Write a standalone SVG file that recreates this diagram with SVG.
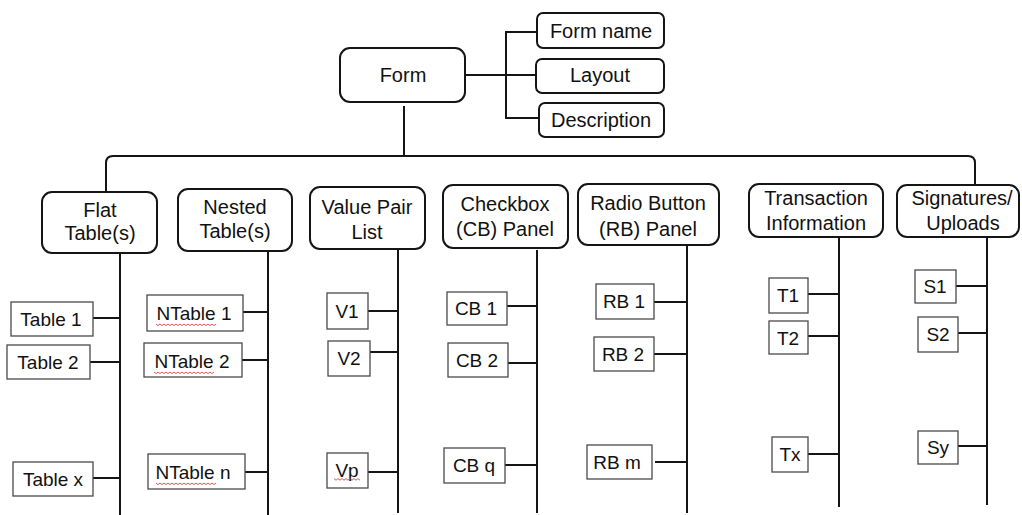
<svg xmlns="http://www.w3.org/2000/svg" width="1022" height="515" viewBox="0 0 1022 515">
  <defs>
    <style>
      .txt { font-family: "Liberation Sans", Arial, sans-serif; fill: #111111; text-anchor: middle; }
      .top { font-size: 20px; }
      .cat { font-size: 20px; }
      .leaf { font-size: 19px; }
      .rbox { fill: #ffffff; stroke: #151515; stroke-width: 2; }
      .sbox { fill: #ffffff; stroke: #4a4a4a; stroke-width: 1.3; }
      .wire { fill: none; stroke: #151515; stroke-width: 2; }
      .squig { fill: none; stroke: #e0443a; stroke-width: 0.9; }
    </style>
    <path id="wave" d="M0,0 l2,1.6 l2,-1.6 l2,1.6 l2,-1.6 l2,1.6 l2,-1.6 l2,1.6 l2,-1.6 l2,1.6 l2,-1.6 l2,1.6 l2,-1.6 l2,1.6 l2,-1.6 l2,1.6 l2,-1.6 l2,1.6 l2,-1.6 l2,1.6 l2,-1.6 l2,1.6 l2,-1.6 l2,1.6 l2,-1.6 l2,1.6 l2,-1.6 l2,1.6 l2,-1.6 l2,1.6 l2,-1.6"/>
  </defs>

  <!-- connectors -->
  <g id="connectors" class="wire">
    <!-- form to attribute boxes -->
    <path d="M465,75 H541"/>
    <path d="M537,32 H506 V118 H539"/>
    <!-- form down to main bus -->
    <path d="M404,106 V156"/>
    <path d="M106,192 V163 Q106,156 113,156 H968 Q975,156 975,163 V186"/>
    <!-- category spines -->
    <path d="M120,253 V515"/>
    <path d="M268,247 V515"/>
    <path d="M398,247 V513"/>
    <path d="M537,250 V513"/>
    <path d="M687,245 V513"/>
    <path d="M839,237 V507"/>
    <path d="M987,237 V505"/>
    <!-- leaf stubs -->
    <path d="M89,318 H120"/>
    <path d="M90,362 H120"/>
    <path d="M90,478 H120"/>
    <path d="M243,312 H268"/>
    <path d="M242,360 H268"/>
    <path d="M238,472 H268"/>
    <path d="M368,311 H398"/>
    <path d="M370,352 H398"/>
    <path d="M367,472 H398"/>
    <path d="M507,306 H537"/>
    <path d="M508,363 H537"/>
    <path d="M505,465 H537"/>
    <path d="M654,302 H687"/>
    <path d="M654,354 H687"/>
    <path d="M655,462 H687"/>
    <path d="M808,294 H839"/>
    <path d="M808,336 H839"/>
    <path d="M808,454 H839"/>
    <path d="M956,286 H987"/>
    <path d="M958,333 H987"/>
    <path d="M958,446 H987"/>
  </g>

  <!-- root -->
  <g id="form">
    <rect class="rbox" x="340" y="48" width="125" height="54" rx="10"/>
    <text class="txt top" x="403" y="82">Form</text>
  </g>
  <g id="form-name">
    <rect class="rbox" x="537" y="13" width="127" height="35" rx="6"/>
    <text class="txt top" x="601" y="38">Form name</text>
  </g>
  <g id="layout">
    <rect class="rbox" x="536" y="59" width="128" height="34" rx="6"/>
    <text class="txt top" x="600" y="82">Layout</text>
  </g>
  <g id="description">
    <rect class="rbox" x="539" y="103" width="125" height="34" rx="6"/>
    <text class="txt top" x="601" y="127">Description</text>
  </g>

  <!-- categories -->
  <g id="flat-tables">
    <rect class="rbox" x="42" y="192" width="115" height="61" rx="10"/>
    <text class="txt cat" x="100" y="217">Flat</text>
    <text class="txt cat" x="100" y="240">Table(s)</text>
  </g>
  <g id="nested-tables">
    <rect class="rbox" x="178" y="189" width="114" height="62" rx="10"/>
    <text class="txt cat" x="235" y="214">Nested</text>
    <text class="txt cat" x="235" y="238">Table(s)</text>
  </g>
  <g id="value-pair-list">
    <rect class="rbox" x="310" y="187" width="115" height="62" rx="10"/>
    <text class="txt cat" x="367" y="214">Value Pair</text>
    <text class="txt cat" x="367" y="239">List</text>
  </g>
  <g id="checkbox-panel">
    <rect class="rbox" x="443" y="185" width="125" height="63" rx="10"/>
    <text class="txt cat" x="505" y="211">Checkbox</text>
    <text class="txt cat" x="505" y="236">(CB) Panel</text>
  </g>
  <g id="radio-button-panel">
    <rect class="rbox" x="578" y="184" width="141" height="61" rx="10"/>
    <text class="txt cat" x="648" y="210">Radio Button</text>
    <text class="txt cat" x="648" y="236">(RB) Panel</text>
  </g>
  <g id="transaction-information">
    <rect class="rbox" x="749" y="184" width="134" height="53" rx="10"/>
    <text class="txt cat" x="816" y="205">Transaction</text>
    <text class="txt cat" x="816" y="230">Information</text>
  </g>
  <g id="signatures-uploads">
    <rect class="rbox" x="897" y="185" width="122" height="52" rx="10"/>
    <text class="txt cat" x="962" y="205">Signatures/</text>
    <text class="txt cat" x="963" y="230">Uploads</text>
  </g>

  <!-- flat table leaves -->
  <g id="table-1">
    <rect class="sbox" x="11" y="302" width="82" height="34"/>
    <text class="txt leaf" x="51" y="326">Table 1</text>
  </g>
  <g id="table-2">
    <rect class="sbox" x="7" y="345" width="83" height="34"/>
    <text class="txt leaf" x="48" y="369">Table 2</text>
  </g>
  <g id="table-x">
    <rect class="sbox" x="13" y="462" width="80" height="34"/>
    <text class="txt leaf" x="53" y="486">Table x</text>
  </g>

  <!-- nested table leaves -->
  <g id="ntable-1">
    <rect class="sbox" x="147" y="295" width="96" height="36"/>
    <text class="txt leaf" x="194" y="320">NTable 1</text>
    <use href="#wave" class="squig" x="156" y="324"/>
  </g>
  <g id="ntable-2">
    <rect class="sbox" x="144" y="343" width="98" height="34"/>
    <text class="txt leaf" x="192" y="368">NTable 2</text>
    <use href="#wave" class="squig" x="154" y="372"/>
  </g>
  <g id="ntable-n">
    <rect class="sbox" x="148" y="454" width="97" height="35"/>
    <text class="txt leaf" x="193" y="479">NTable n</text>
    <use href="#wave" class="squig" x="156" y="483"/>
  </g>

  <!-- value pair leaves -->
  <g id="v1">
    <rect class="sbox" x="327" y="293" width="41" height="36"/>
    <text class="txt leaf" x="347" y="318">V1</text>
  </g>
  <g id="v2">
    <rect class="sbox" x="328" y="341" width="42" height="35"/>
    <text class="txt leaf" x="349" y="365">V2</text>
  </g>
  <g id="vp">
    <rect class="sbox" x="327" y="453" width="41" height="35"/>
    <text class="txt leaf" x="347" y="477">Vp</text>
    <svg x="334" y="478" width="26" height="3" overflow="hidden"><use href="#wave" class="squig" y="0.6"/></svg>
  </g>

  <!-- checkbox leaves -->
  <g id="cb-1">
    <rect class="sbox" x="447" y="292" width="60" height="33"/>
    <text class="txt leaf" x="476" y="315">CB 1</text>
  </g>
  <g id="cb-2">
    <rect class="sbox" x="448" y="343" width="60" height="34"/>
    <text class="txt leaf" x="477" y="367">CB 2</text>
  </g>
  <g id="cb-q">
    <rect class="sbox" x="444" y="448" width="61" height="35"/>
    <text class="txt leaf" x="474" y="472">CB q</text>
  </g>

  <!-- radio button leaves -->
  <g id="rb-1">
    <rect class="sbox" x="596" y="284" width="58" height="35"/>
    <text class="txt leaf" x="624" y="308">RB 1</text>
  </g>
  <g id="rb-2">
    <rect class="sbox" x="594" y="337" width="60" height="34"/>
    <text class="txt leaf" x="623" y="361">RB 2</text>
  </g>
  <g id="rb-m">
    <rect class="sbox" x="587" y="445" width="65" height="34"/>
    <text class="txt leaf" x="617" y="469">RB m</text>
  </g>

  <!-- transaction leaves -->
  <g id="t1">
    <rect class="sbox" x="769" y="278" width="39" height="35"/>
    <text class="txt leaf" x="788" y="302">T1</text>
  </g>
  <g id="t2">
    <rect class="sbox" x="769" y="321" width="39" height="33"/>
    <text class="txt leaf" x="788" y="345">T2</text>
  </g>
  <g id="tx">
    <rect class="sbox" x="772" y="437" width="36" height="35"/>
    <text class="txt leaf" x="790" y="461">Tx</text>
  </g>

  <!-- signature / upload leaves -->
  <g id="s1">
    <rect class="sbox" x="915" y="270" width="41" height="33"/>
    <text class="txt leaf" x="935" y="293">S1</text>
  </g>
  <g id="s2">
    <rect class="sbox" x="918" y="317" width="40" height="35"/>
    <text class="txt leaf" x="938" y="341">S2</text>
  </g>
  <g id="sy">
    <rect class="sbox" x="918" y="431" width="40" height="33"/>
    <text class="txt leaf" x="938" y="454">Sy</text>
  </g>
</svg>
